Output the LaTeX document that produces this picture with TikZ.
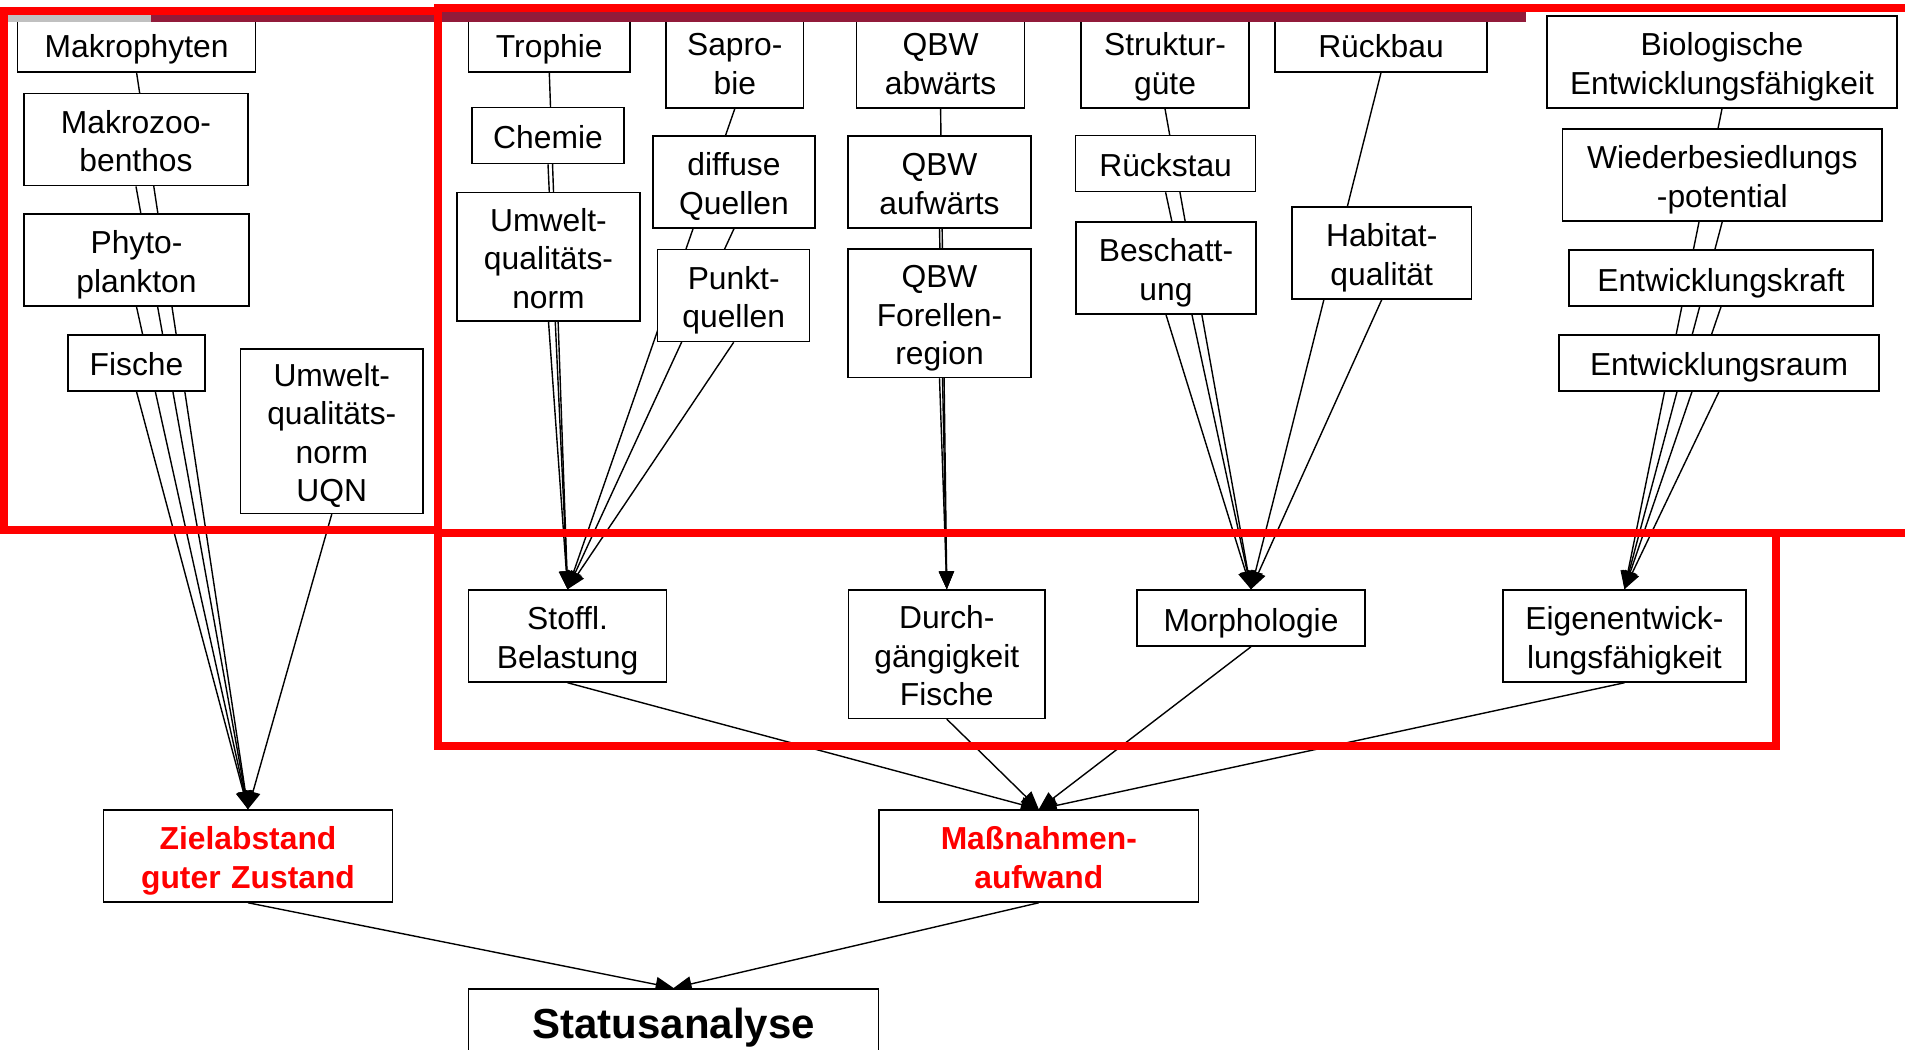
\documentclass[tikz,border=0pt]{standalone}
\usepackage{fontspec}
\setmainfont{Liberation Sans}
\usetikzlibrary{arrows.meta,backgrounds}
\definecolor{FrameRed}{HTML}{FF0000}
\definecolor{BarRed}{HTML}{921B3A}
\definecolor{BarGray}{HTML}{C0C0C0}
\tikzset{
    box/.style = {draw, rectangle, fill=white, line width=1.5pt,
        align=center, inner sep=2pt,
        font=\fontsize{31.8}{38.4}\selectfont,
        execute at begin node={\rule{0pt}{33pt}},
        execute at end node={\rule[-7pt]{0pt}{7pt}}},
    wd/.style = {minimum width=#1, text width=#1-4pt},
    goal/.style = {box, text=FrameRed, font=\fontsize{31.8}{38.4}\selectfont\bfseries},
    oneline/.style = {minimum height=56pt},
    twoline/.style = {minimum height=92pt},
    threeline/.style = {minimum height=128.4pt},
    fourline/.style = {minimum height=164.5pt},
    arrow/.style = {draw, -{Triangle[length=18pt,width=15pt]}, line width=1.4pt},
    frame/.style = {draw=FrameRed, line width=8pt}
}
\begin{document}
\begin{tikzpicture}[x=1pt,y=-1pt]
        \useasboundingbox (0,0) rectangle (1905,1049);
        \clip (0,0) rectangle (1905,1049);
        % Bewertungskriterien
        \node [box, oneline, wd=238pt] (makro) at (136.6,44) {Makrophyten};
        \node [box, twoline, wd=224pt] (mzb) at (136,139.7) {Makrozoo-\\benthos};
        \node [box, twoline, wd=225pt] (phyto) at (136.5,260) {Phyto-\\plankton};
        \node [box, oneline, wd=137pt] (fische) at (136.5,362.8) {Fische};
        \node [box, fourline, wd=182.5pt] (uqnA) at (331.8,431) {Umwelt-\\qualitäts-\\norm\\UQN};
        \node [box, oneline, wd=161.5pt] (trophie) at (549.3,44) {Trophie};
        \node [box, oneline, wd=152pt] (chemie) at (548,135.5) {Chemie};
        \node [box, threeline, wd=183pt] (uqnB) at (548.5,256.6) {Umwelt-\\qualitäts-\\norm};
        \node [box, twoline, wd=137.5pt] (sapro) at (734.8,62) {Sapro-\\bie};
        \node [box, twoline, wd=162pt] (diffus) at (734,181.9) {diffuse\\Quellen};
        \node [box, twoline, wd=152pt] (punkt) at (733.7,295.5) {Punkt-\\quellen};
        \node [box, twoline, wd=168pt] (qbwab) at (940.6,62) {QBW\\abwärts};
        \node [box, twoline, wd=183pt] (qbwauf) at (939.5,181.9) {QBW\\aufwärts};
        \node [box, threeline, wd=183pt] (qbwfor) at (939.5,313.3) {QBW\\Forellen-\\region};
        \node [box, twoline, wd=168pt] (struktur) at (1165,62) {Struktur-\\güte};
        \node [box, oneline, wd=212pt] (rueckbau) at (1381,44) {Rückbau};
        \node [box, oneline, wd=180pt] (rueckstau) at (1165.6,163.5) {Rückstau};
        \node [box, twoline, wd=180pt] (beschatt) at (1166,268) {Beschatt-\\ung};
        \node [box, twoline, wd=179.5pt] (habitat) at (1381.7,253) {Habitat-\\qualität};
        \node [box, twoline, wd=350pt] (bio) at (1722,62) {Biologische\\Entwicklungsfähigkeit};
        \node [box, twoline, wd=319.5pt] (wieder) at (1722.3,174.8) {Wiederbesiedlungs\\-potential};
        \node [box, oneline, wd=304pt] (ekraft) at (1721,278) {Entwicklungskraft};
        \node [box, oneline, wd=320pt] (eraum) at (1719,362.8) {Entwicklungsraum};
        % Teilziele
        \node [box, twoline, wd=198pt] (stoffl) at (567.6,636) {Stoffl.\\Belastung};
        \node [box, threeline, wd=196.5pt] (durch) at (946.8,654.2) {Durch-\\gängigkeit\\Fische};
        \node [box, oneline, wd=228pt] (morph) at (1251,618) {Morphologie};
        \node [box, twoline, wd=242.7pt] (eigen) at (1624.4,636) {Eigenentwick-\\lungsfähigkeit};
        \node [goal, twoline, wd=289pt] (ziel) at (248,856) {Zielabstand\\guter Zustand};
        \node [goal, twoline, wd=319.6pt] (massn) at (1038.8,856) {Maßnahmen-\\aufwand};
        \node [box, anchor=north, minimum width=410pt, inner ysep=0pt,
               text height=50pt, text depth=30pt,
               font=\fontsize{42}{50}\selectfont\bfseries] (status) at (673.6,988) {Statusanalyse};
        \begin{scope}[on background layer]
            \foreach \src in {makro,mzb,phyto,fische,uqnA}
                \draw [arrow] (\src.south) -- (ziel.north);
            \foreach \src in {trophie,chemie,uqnB,sapro,diffus,punkt}
                \draw [arrow] (\src.south) -- (stoffl.north);
            \foreach \src in {qbwab,qbwauf,qbwfor}
                \draw [arrow] (\src.south) -- (durch.north);
            \foreach \src in {struktur,rueckstau,beschatt,rueckbau,habitat}
                \draw [arrow] (\src.south) -- (morph.north);
            \foreach \src in {bio,wieder,ekraft,eraum}
                \draw [arrow] (\src.south) -- (eigen.north);
            \foreach \src in {stoffl,durch,morph,eigen}
                \draw [arrow] (\src.south) -- (massn.north);
            \draw [arrow] (ziel.south) -- (status.north);
            \draw [arrow] (massn.south) -- (status.north);
        \end{scope}
        % Kopfleiste
        \fill [BarGray] (8,11) rectangle (151,22.5);
        \fill [BarRed] (151,11) rectangle (1526,22.5);
        % Markierungen
        \draw [frame] (4.2,11) rectangle (438.3,530);
        \draw [frame] (438.3,7.9) rectangle (1930,533.3);
        \draw [frame] (438.3,533.3) rectangle (1775.5,746);
\end{tikzpicture}
\end{document}
